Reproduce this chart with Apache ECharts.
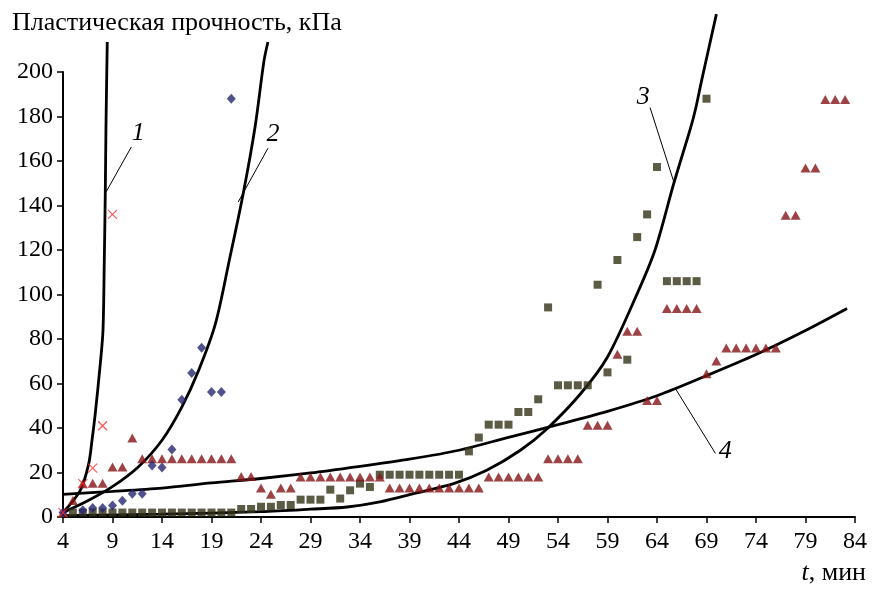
<!DOCTYPE html>
<html>
<head>
<meta charset="utf-8">
<script src="https://cdn.jsdelivr.net/npm/echarts@6/dist/echarts.min.js"></script>
<style>
  html, body { margin: 0; padding: 0; background: #ffffff; }
  #chart { width: 872px; height: 591px; }
</style>
</head>
<body>
<div id="chart"></div>
<script>
// Time axis (minutes) and strength axis (kPa)
const xTicks = [4, 84, 5];      // min, max, step
const yTicks = [0, 200, 20];    // min, max, step

// Measured points: series 1 (crosses)
const t1 = [4, 6, 7, 8, 9];
const v1 = [2, 15, 22, 41, 136];

// Measured points: series 2 (diamonds)
const t2 = [4, 6, 7, 8, 9, 10, 11, 12, 13, 14, 15, 16, 17, 18, 19, 20, 21];
const v2 = [2, 3, 4, 4, 5.2, 7.3, 10.5, 10.5, 23.2, 22.3, 30.3, 52.7, 64.7, 76.1, 56.2, 56.2, 188];

// Measured points: series 3 (squares)
const t3 = [5, 6, 7, 8, 9, 10, 11, 12, 13, 14, 15, 16, 17, 18, 19, 20, 21,
            22, 23, 24, 25, 26, 27, 28, 29, 30, 31, 32, 33, 34, 35,
            36, 37, 38, 39, 40, 41, 42, 43, 44, 45, 46, 47, 48, 49, 50, 51, 52,
            53, 54, 55, 56, 57, 58, 59, 60, 61, 62, 63, 64, 65, 66, 67, 68, 69];
const v3 = [2, 2, 2, 2, 2, 2, 2, 2, 2, 2, 2, 2, 2, 2, 2, 2, 2,
            3.6, 3.6, 4.6, 4.6, 5.4, 5.4, 7.8, 7.8, 7.8, 12.3, 8.3, 12, 15, 13.5,
            19, 19, 19, 19, 19, 19, 19, 19, 19, 29.5, 35.7, 41.5, 41.5, 41.5, 47.2, 47.2, 52.9,
            94.2, 59.2, 59.2, 59.2, 59.2, 104.4, 65, 115.5, 70.7, 125.8, 136, 157.3, 106, 106, 106, 106, 188];

// Measured points: series 4 (triangles)
const t4 = [4, 5, 6, 7, 8, 9, 10, 11, 12, 13, 14, 15, 16, 17, 18, 19, 20, 21,
            22, 23, 24, 25, 26, 27, 28, 29, 30, 31, 32, 33, 34, 35, 36,
            37, 38, 39, 40, 41, 42, 43, 44, 45, 46, 47, 48, 49, 50, 51, 52,
            53, 54, 55, 56, 57, 58, 59, 60, 61, 62, 63, 64, 65, 66, 67, 68,
            69, 70, 71, 72, 73, 74, 75, 76, 77, 78, 79, 80, 81, 82, 83];
const v4 = [2, 7.4, 15, 15.2, 15.2, 22.5, 22.5, 35.5, 26.2, 26.2, 26.2, 26.2, 26.2, 26.2, 26.2, 26.2, 26.2, 26.2,
            18.2, 18.2, 13, 10.2, 13, 13, 18, 18, 18, 18, 18, 18, 18, 18, 18,
            13, 13, 13, 13, 13, 13, 13, 13, 13, 13, 18, 18, 18, 18, 18, 18,
            26.2, 26.2, 26.2, 26.2, 41.2, 41.2, 41.2, 73.1, 83.5, 83.5, 52.4, 52.4, 93.7, 93.7, 93.7, 93.7,
            64.4, 70.1, 76, 76, 76, 76, 76, 76, 135.6, 135.6, 156.9, 156.9, 187.6, 187.6, 187.6];

// Fitted curves 1-4
const c1t = [4, 5.75, 6.6, 6.93, 7.26, 7.77, 8.04, 8.17, 8.27, 8.34, 8.44, 8.47];
const c1v = [2, 12, 24, 34.5, 46.6, 69, 84, 115, 145, 175, 205, 213.5];
const c2t = [4, 6.6, 8.95, 11.6, 14.0, 16.0, 17.7, 19.4, 20.8, 22.2, 23.4, 24.3, 24.7];
const c2v = [2, 7.5, 13.5, 22.5, 34.5, 49.4, 65.9, 86.9, 115.4, 145.3, 175.3, 205, 213.5];
const c3t = [4, 14, 24, 29, 32.7, 36, 39.4, 43.45, 46.8, 50.2, 52.9, 56.3, 59, 62, 63.8, 65.7, 67.4, 67.9, 68.5, 70.0];
const c3v = [0.6, 1.3, 2.4, 3.5, 4.5, 6.8, 10.5, 15, 21, 30, 39.7, 55.5, 71.9, 100.4, 120, 150, 175, 183.5, 196, 226];
const c4t = [4, 9, 14, 19, 24, 29, 34, 39, 44, 49, 54, 59, 64, 69, 74, 79, 83.2];
const c4v = [10.2, 11.5, 13, 15.3, 17.3, 19.8, 22.8, 26, 30, 35.8, 41.5, 47.5, 54.5, 63.5, 73, 83.8, 93.7];

// Curve labels: leader line from the curve to the number
const curveNames = ['1', '2', '3', '4'];
const leaderFrom = [[8.34, 146], [21.7, 141.6], [65.75, 149.9], [65.85, 57.8]];
const leaderTo = [[10.9, 166.3], [24.7, 165.7], [63.3, 184], [69.9, 28.6]];
const nameAt = [[11.6, 172.4], [25.2, 172], [62.6, 188.6], [70.9, 29.5]];

const serif = 'Liberation Serif';
const pairs = (ts, vs) => ts.map((t, i) => [t, vs[i]]);

function curve(ts, vs, k) {
  return {
    type: 'line',
    data: pairs(ts, vs),
    smooth: 0.3,
    showSymbol: false,
    clip: false,
    silent: true,
    z: 3,
    lineStyle: { color: '#000', width: 2.8 },
    markLine: {
      silent: true,
      symbol: ['none', 'none'],
      label: { show: false },
      lineStyle: { color: '#000', width: 1, type: 'solid' },
      data: [[{ coord: leaderFrom[k] }, { coord: leaderTo[k] }]]
    },
    markPoint: {
      silent: true,
      symbol: 'circle',
      symbolSize: 0,
      label: {
        show: true, position: 'inside', formatter: '{b}',
        fontFamily: serif, fontStyle: 'italic', fontSize: 26, color: '#000'
      },
      data: [{ name: curveNames[k], coord: nameAt[k] }]
    }
  };
}

function points(ts, vs, symbol, size, style) {
  return {
    type: 'scatter',
    data: pairs(ts, vs),
    symbol: symbol,
    symbolSize: size,
    itemStyle: style,
    silent: true,
    z: 4
  };
}

const axisCommon = {
  type: 'value',
  splitLine: { show: false },
  axisLine: { show: true, lineStyle: { color: '#000', width: 2 } },
  axisTick: { show: true, length: 6, lineStyle: { color: '#000', width: 1.5 } },
  axisLabel: { fontFamily: serif, fontSize: 24, color: '#000' }
};

const chart = echarts.init(document.getElementById('chart'), null, { renderer: 'canvas' });
chart.setOption({
  animation: false,
  backgroundColor: '#ffffff',
  title: [
    {
      text: 'Пластическая прочность, кПа',
      left: 7, top: 5,
      textStyle: { fontFamily: serif, fontSize: 26, fontWeight: 'normal', color: '#000' }
    },
    {
      text: '{i|t}, мин',
      right: 1, bottom: 0,
      textStyle: {
        fontFamily: serif, fontSize: 26, fontWeight: 'normal', color: '#000',
        rich: { i: { fontFamily: serif, fontSize: 26, fontStyle: 'italic', color: '#000' } }
      }
    }
  ],
  grid: { left: 63, right: 17, top: 72, bottom: 74, containLabel: false },
  xAxis: Object.assign({}, axisCommon, {
    min: xTicks[0], max: xTicks[1], interval: xTicks[2],
    axisLabel: Object.assign({}, axisCommon.axisLabel, { margin: 13 })
  }),
  yAxis: Object.assign({}, axisCommon, {
    min: yTicks[0], max: yTicks[1], interval: yTicks[2],
    axisLabel: Object.assign({}, axisCommon.axisLabel, { margin: 10 })
  }),
  series: [
    curve(c1t, c1v, 0),
    curve(c2t, c2v, 1),
    curve(c3t, c3v, 2),
    curve(c4t, c4v, 3),
    points(t3, v3, 'rect', 8, { color: '#333318' }),
    points(t4, v4, 'triangle', [10, 9], { color: '#861417' }),
    points(t2, v2, 'diamond', [9, 10], { color: '#25256f' }),
    points(t1, v1, 'path://M0,0L10,10M10,0L0,10', 9,
      { color: 'rgba(0,0,0,0)', borderColor: '#ff2a2a', borderWidth: 1.2 })
  ]
});
</script>
</body>
</html>
